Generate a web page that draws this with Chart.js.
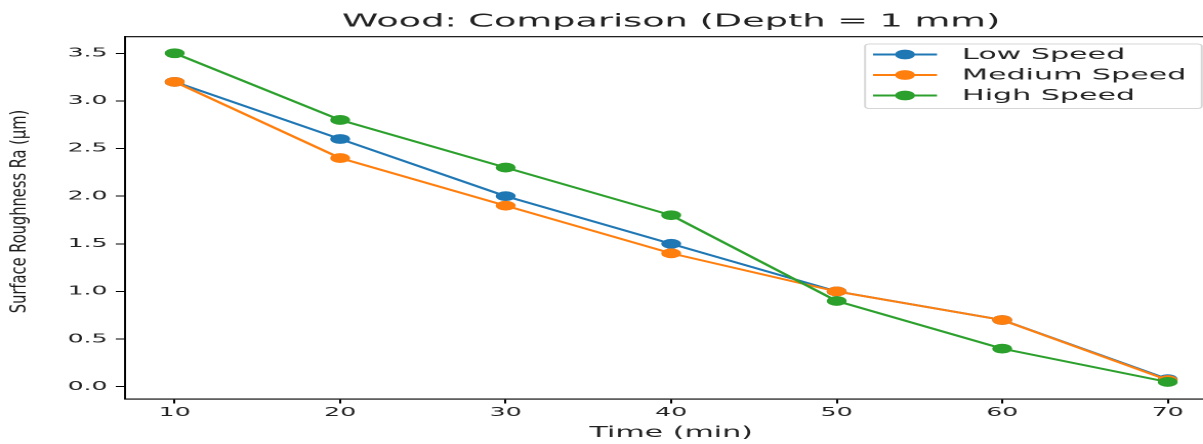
<!DOCTYPE html>
<html>
<head>
<meta charset="utf-8">
<script src="https://cdn.jsdelivr.net/npm/chart.js@4.4.1/dist/chart.umd.min.js"></script>
<style>
  html, body { margin: 0; padding: 0; background: #fff; overflow: hidden; width: 1203px; height: 444px; }
  #wrap { position: absolute; left: 0; top: 0; width: 594px; height: 444px; transform-origin: 0 0; }
</style>
</head>
<body>
<div id="wrap"><canvas id="c" width="594" height="444"></canvas></div>
<script>
// ---- data ----
const categories = [10, 20, 30, 40, 50, 60, 70];
const lowSpeed = [3.2, 2.6, 2.0, 1.5, 1.0, 0.7, 0.08];
const mediumSpeed = [3.2, 2.4, 1.9, 1.4, 1.0, 0.7, 0.07];
const highSpeed = [3.5, 2.8, 2.3, 1.8, 0.9, 0.4, 0.05];
const seriesLabels = ['Low Speed', 'Medium Speed', 'High Speed'];
const xTickValues = [10, 20, 30, 40, 50, 60, 70];
const yTickValues = [0.0, 0.5, 1.0, 1.5, 2.0, 2.5, 3.0, 3.5];
const titleText = 'Wood: Comparison (Depth = 1 mm)';
const xTitleText = 'Time (min)';
const yTitleText = 'Surface Roughness Ra (μm)';

// ---- layout ----
// the figure is drawn narrow and stretched horizontally; its right edge falls outside the window
const S = 1203 / 587;
document.getElementById('wrap').style.transform = 'scaleX(' + S + ')';

const colors = ['#1f77b4', '#ff7f0e', '#2ca02c'];
const FONT = "'DejaVu Sans', sans-serif";
const PR = 4.4;

function mk(i, vals, order) {
  return {
    label: seriesLabels[i],
    data: categories.map((x, k) => ({ x: x, y: vals[k] })),
    borderColor: colors[i],
    backgroundColor: colors[i],
    pointBackgroundColor: colors[i],
    pointBorderColor: colors[i],
    borderWidth: 1.9,
    pointRadius: PR,
    pointBorderWidth: 1,
    pointHoverRadius: PR,
    tension: 0,
    order: order
  };
}

const extras = {
  id: 'extras',
  afterDatasetsDraw(chart) {
    const ctx = chart.ctx;
    const a = chart.chartArea;
    ctx.save();
    // top and right spines
    ctx.strokeStyle = '#000';
    ctx.lineWidth = 1.1;
    ctx.beginPath();
    ctx.moveTo(a.left, a.top);
    ctx.lineTo(a.right, a.top);
    ctx.lineTo(a.right, a.bottom);
    ctx.stroke();

    // legend
    const lx0 = 422.1, lx1 = 586.4, ly0 = 44, ly1 = 108.5;
    ctx.fillStyle = 'rgba(255,255,255,0.8)';
    ctx.strokeStyle = 'rgba(204,204,204,0.8)';
    ctx.lineWidth = 1;
    ctx.beginPath();
    ctx.roundRect(lx0, ly0, lx1 - lx0, ly1 - ly0, 2.2);
    ctx.fill();
    ctx.stroke();
    const rows = [54.5, 75, 95.5];
    ctx.font = '14.7px ' + FONT;
    ctx.textBaseline = 'middle';
    ctx.textAlign = 'left';
    chart.data.datasets.forEach((ds, i) => {
      const y = rows[i];
      ctx.strokeStyle = ds.borderColor;
      ctx.lineWidth = 1.9;
      ctx.beginPath();
      ctx.moveTo(426, y);
      ctx.lineTo(457.2, y);
      ctx.stroke();
      ctx.fillStyle = ds.borderColor;
      ctx.beginPath();
      ctx.arc(441.6, y, PR + 0.5, 0, Math.PI * 2);
      ctx.fill();
      ctx.fillStyle = '#222';
      ctx.fillText(ds.label, 469.4, y + 0.5);
    });
    ctx.restore();
  },
  afterDraw(chart) {
    // y axis title, drawn without the horizontal stretch
    const ctx = chart.ctx;
    ctx.save();
    ctx.translate(19.5 / S, 211.5);
    ctx.scale(1.35 / S, 1);
    ctx.rotate(-Math.PI / 2);
    ctx.font = "16.3px 'Liberation Sans Narrow', 'DejaVu Sans Condensed', sans-serif";
    ctx.fillStyle = '#1a1a1a';
    ctx.textAlign = 'center';
    ctx.textBaseline = 'middle';
    ctx.fillText(yTitleText, 0, 0);
    ctx.restore();
  }
};

new Chart(document.getElementById('c'), {
  type: 'line',
  data: {
    datasets: [mk(0, lowSpeed, 3), mk(1, mediumSpeed, 2), mk(2, highSpeed, 1)]
  },
  options: {
    responsive: false,
    animation: false,
    devicePixelRatio: 2,
    layout: { autoPadding: false, padding: { left: 0, right: 0, top: 0, bottom: 0 } },
    plugins: {
      legend: { display: false },
      tooltip: { enabled: false },
      title: {
        display: true,
        text: titleText,
        fullSize: false,
        color: '#222',
        font: { family: FONT, size: 17.9, weight: 'normal', lineHeight: 1.2 },
        padding: { top: 11.2, bottom: 4.0 }
      }
    },
    scales: {
      x: {
        type: 'linear',
        min: 7,
        max: 73,
        afterBuildTicks(scale) { scale.ticks = xTickValues.map(v => ({ value: v })); },
        afterFit(scale) { scale.height = 45; },
        ticks: {
          color: '#222',
          font: { family: FONT, size: 12.3 },
          padding: 2,
          maxRotation: 0,
          callback: v => String(v)
        },
        grid: { drawOnChartArea: false, drawTicks: true, tickLength: 4.5, color: '#000', tickWidth: 1 },
        border: { display: true, color: '#000', width: 1.1 },
        title: {
          display: true,
          text: xTitleText,
          color: '#222',
          font: { family: FONT, size: 14.7, lineHeight: 1.2 },
          padding: { top: 0, bottom: 2.2 }
        }
      },
      y: {
        type: 'linear',
        min: -0.129,
        max: 3.674,
        afterBuildTicks(scale) { scale.ticks = yTickValues.map(v => ({ value: v })); },
        afterFit(scale) { scale.width = 61; },
        ticks: {
          color: '#222',
          font: { family: FONT, size: 12.3 },
          padding: 4,
          callback: v => Number(v).toFixed(1)
        },
        grid: { drawOnChartArea: false, drawTicks: true, tickLength: 4.5, color: '#000', tickWidth: 1 },
        border: { display: true, color: '#000', width: 1 }
      }
    }
  },
  plugins: [extras]
});
</script>
</body>
</html>
